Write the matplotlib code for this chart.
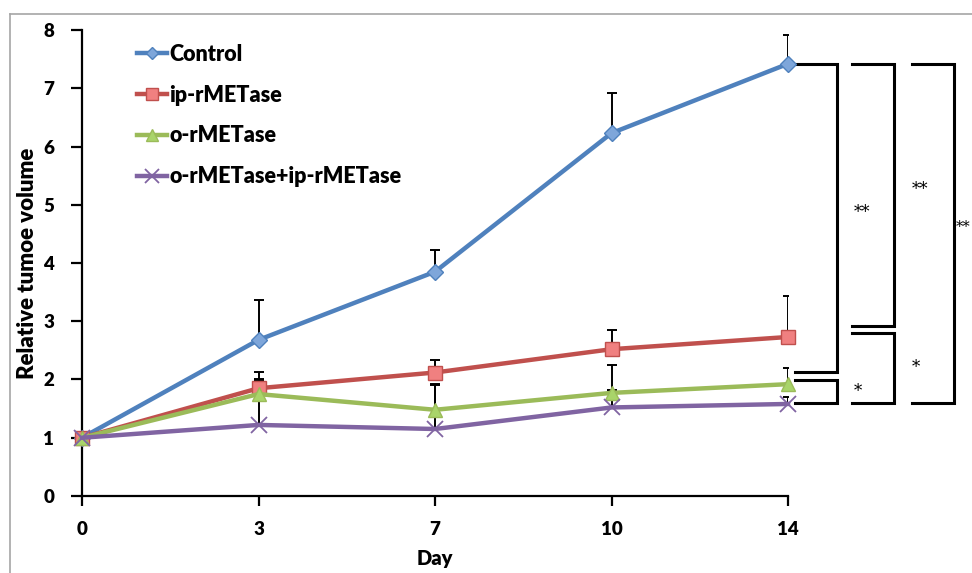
import matplotlib.pyplot as plt
from matplotlib.lines import Line2D
import numpy as np

# dados
dias = ['0', '3', '7', '10', '14']
controle = [1.0, 2.68, 3.85, 6.23, 7.42]
controle_err = [0.0, 0.68, 0.37, 0.69, 0.49]
ip = [1.0, 1.85, 2.12, 2.52, 2.73]
ip_err = [0.0, 0.28, 0.21, 0.33, 0.70]
oral = [1.0, 1.75, 1.48, 1.77, 1.92]
oral_err = [0.0, 0.25, 0.44, 0.48, 0.28]
combo = [1.0, 1.22, 1.15, 1.52, 1.58]
combo_err = [0.0, 0.77, 0.76, 0.30, 0.12]

# colchetes de significancia: (y de cima, y de baixo, texto, coluna)
colchetes = [
    (7.42, 2.13, '**', 0),
    (1.99, 1.60, '*', 0),
    (7.42, 2.92, '**', 1),
    (2.80, 1.60, '*', 1),
    (7.42, 1.60, '**', 2),
]

plt.rcParams['font.family'] = ['Lato', 'DejaVu Sans']
peso = 'heavy'

fig = plt.figure(figsize=(9.72, 5.73), dpi=100)
ax = fig.add_axes([0.0844, 0.1344, 0.7263, 0.8132])

x = np.arange(len(dias))
series = [
    ('Control', controle, controle_err, '#4F81BD', 'D', '#7EA6DA', 8),
    ('ip-rMETase', ip, ip_err, '#C0504D', 's', '#F08080', 10),
    ('o-rMETase', oral, oral_err, '#9BBB59', '^', '#A9D46A', 10),
    ('o-rMETase+ip-rMETase', combo, combo_err, '#8064A2', 'x', '#8064A2', 12),
]

for nome, y, err, cor, mk, cor_mk, ms in series:
    ax.errorbar(x, y, yerr=[np.zeros(len(err)), err], fmt='none', ecolor='black',
                elinewidth=1.4, capsize=3.5, capthick=1.4, zorder=2)
for nome, y, err, cor, mk, cor_mk, ms in series:
    ax.plot(x, y, color=cor, lw=3.2, marker=mk, markersize=ms,
            markerfacecolor=cor_mk, markeredgecolor=cor, markeredgewidth=1 if mk != 'x' else 1.3,
            label=nome, zorder=3, clip_on=False)

ax.set_xlim(0, 4)
ax.set_ylim(0, 8)
ax.set_xticks(x)
ax.set_xticklabels(dias)
ax.set_yticks(range(9))
for s in ['top', 'right']:
    ax.spines[s].set_visible(False)
for s in ['left', 'bottom']:
    ax.spines[s].set_linewidth(1.6)
ax.tick_params(axis='x', length=7, width=1.6, pad=11, labelsize=13.5)
ax.tick_params(axis='y', length=8, width=1.6, pad=12, labelsize=13.5)
for t in ax.get_xticklabels() + ax.get_yticklabels():
    t.set_fontweight(peso)

ax.set_xlabel('Day', fontsize=14.5, fontweight=peso, labelpad=8)
ax.set_ylabel('Relative tumoe volume', fontsize=16, fontweight=peso, labelpad=4)

leg = ax.legend(loc='upper left', bbox_to_anchor=(0.05, 1.012), frameon=False,
                handlelength=1.4, handletextpad=0.1, labelspacing=0.92,
                prop={'size': 15.5, 'weight': peso}, markerscale=0.8)

# colchetes
colunas = [(4.04, 4.28, 4.37), (4.36, 4.60, 4.70), (4.70, 4.94, 4.953)]
for y_top, y_bot, txt, c in colchetes:
    x0, x1, xt = colunas[c]
    ax.plot([x0, x1, x1, x0], [y_top, y_top, y_bot, y_bot], color='black', lw=2.2,
            clip_on=False, solid_joinstyle='miter')
    ax.text(xt, (y_top + y_bot) / 2 + (0.1 if txt == '**' else 0.0), txt,
            fontsize=12 if c < 2 else 10.5, family='DejaVu Serif', ha='left', va='center',
            clip_on=False)

# borda cinza
fig.add_artist(Line2D([10 / 972, 10 / 972], [0, 1 - 14 / 573], color='#A6A6A6', lw=1.2))
fig.add_artist(Line2D([10 / 972, 1], [1 - 14 / 573, 1 - 14 / 573], color='#A6A6A6', lw=1.2))

fig.savefig('out.png', dpi=100)
